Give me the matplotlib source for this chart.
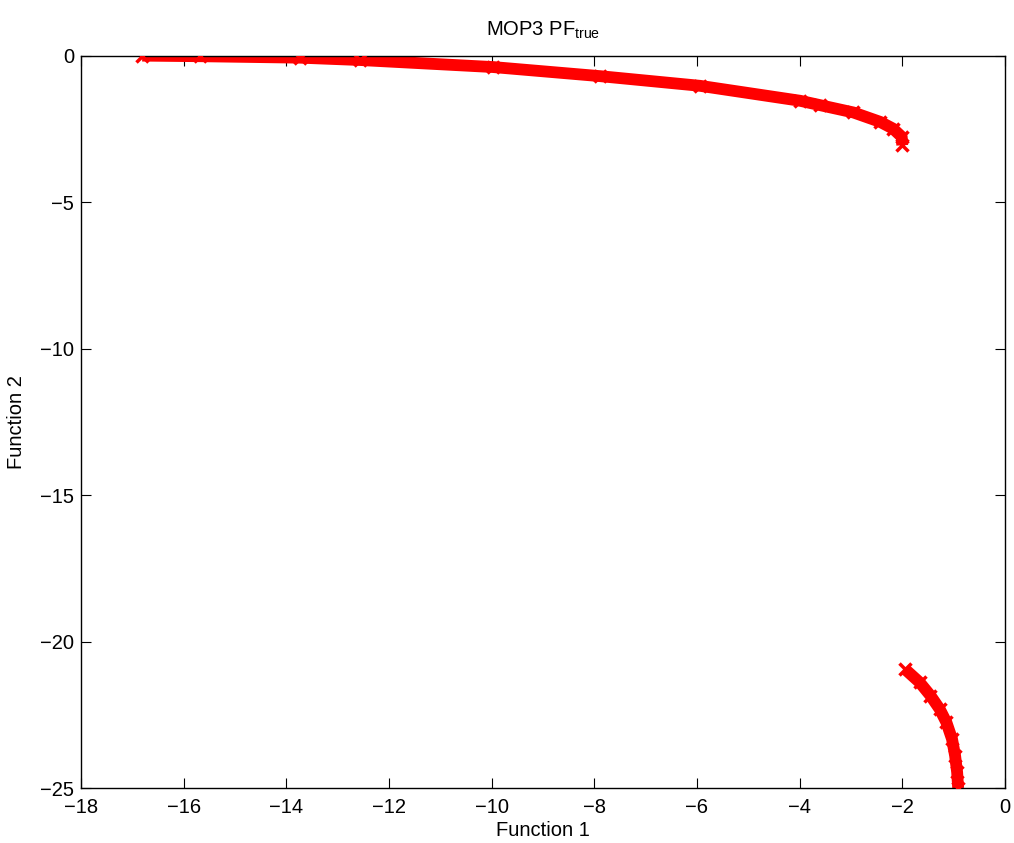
import matplotlib
matplotlib.use('Agg')
import matplotlib.pyplot as plt

# upper branch of the front (Function 1, Function 2)
upper_f1 = [-16.81, -15.68, -13.73, -12.56, -9.97, -7.89, -5.94, -3.99, -3.60,
            -2.95, -2.43, -2.18, -2.01, -2.00]
upper_f2 = [0.0, -0.02, -0.07, -0.15, -0.39, -0.70, -1.03, -1.54, -1.69,
            -1.94, -2.26, -2.49, -2.77, -3.06]

# lower branch
lower_f1 = [-1.95, -1.66, -1.45, -1.27, -1.14, -1.03, -0.97, -0.93, -0.91]
lower_f2 = [-20.93, -21.39, -21.84, -22.30, -22.75, -23.32, -23.89, -24.46, -25.0]

xticks = list(range(-18, 1, 2))
yticks = list(range(-25, 1, 5))

plt.rcParams['font.family'] = ['Liberation Sans', 'DejaVu Sans']
plt.rcParams['axes.unicode_minus'] = True
plt.rcParams['mathtext.fontset'] = 'custom'
plt.rcParams['mathtext.rm'] = 'Liberation Sans'

fig = plt.figure(figsize=(10.14, 8.43), dpi=100)
ax = fig.add_axes([0.080, 0.065, 0.911, 0.869])

for f1, f2 in [(upper_f1, upper_f2), (lower_f1, lower_f2)]:
    ax.plot(f1, f2, color='red', linewidth=8.5, solid_capstyle='butt',
            solid_joinstyle='round', zorder=2)
    ax.plot(f1, f2, 'x', color='red', markersize=8, markeredgewidth=2.5, zorder=3)

ax.set_xlim(-18, 0)
ax.set_ylim(-25, 0)
ax.set_xticks(xticks)
ax.set_yticks(yticks)
ax.tick_params(direction='in', length=7, width=0.8, top=True, right=True, labelsize=14.5)
ax.tick_params(axis='x', pad=7)
ax.tick_params(axis='y', pad=5)
for s in ax.spines.values():
    s.set_linewidth(1.0)

ax.set_xlabel('Function 1', fontsize=14.5, labelpad=3)
ax.set_ylabel('Function 2', fontsize=14.5, labelpad=10)
ax.set_title(r'MOP3 PF$_{\mathrm{true}}$', fontsize=14.5, pad=14)

fig.savefig('out.png', dpi=100)
